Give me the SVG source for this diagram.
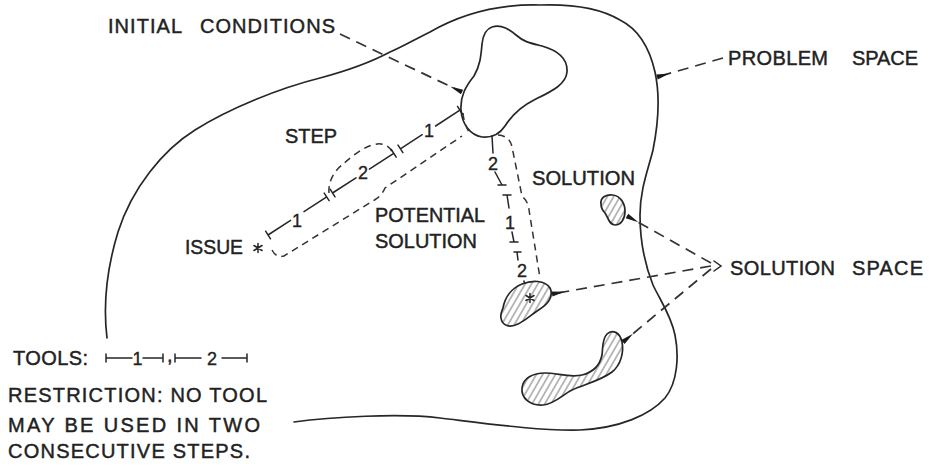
<svg xmlns="http://www.w3.org/2000/svg" width="930" height="468" viewBox="0 0 930 468">
<style>
  .ln{fill:none;stroke:#262626;stroke-width:1.7;stroke-linecap:round;stroke-linejoin:round}
  .th{fill:none;stroke:#262626;stroke-width:1.5;stroke-linecap:round}
  .ds{fill:none;stroke:#333;stroke-width:1.5;stroke-dasharray:7 5}
  .ar{fill:none;stroke:#333;stroke-width:1.7;stroke-dasharray:11 7}
  .hb{fill:url(#hatch);stroke:#262626;stroke-width:1.7}
  .tx{font-family:"Liberation Sans",Arial,sans-serif;font-size:20px;fill:#222;stroke:#222;stroke-width:0.45}
  .nm{font-family:"Liberation Sans",Arial,sans-serif;font-size:18px;fill:#222;stroke:#222;stroke-width:0.35;text-anchor:middle}
</style>
<defs>
  <pattern id="hatch" patternUnits="userSpaceOnUse" width="5.5" height="5.5" patternTransform="rotate(30)">
    <rect width="5.5" height="5.5" fill="#fff"/>
    <line x1="2.75" y1="0" x2="2.75" y2="5.5" stroke="#555" stroke-width="0.8"/>
  </pattern>
  <marker id="wedge" markerUnits="userSpaceOnUse" viewBox="0 -3 14 6" refX="13" refY="0" markerWidth="14" markerHeight="6" orient="auto">
    <path d="M0,0 L13,-2.6 L13,2.6 Z" fill="#1a1a1a"/>
  </marker>
</defs>
<rect width="930" height="468" fill="#fff"/>

<g id="problem-space">
  <path class="ln" d="M 294,422 C 330,417 400,413 440,418 C 490,424 540,431 580,430 C 620,428 650,415 665,398 C 678,382 679,355 675,335 C 671,315 660,300 653,285 C 645,265 640,240 640,215 C 640,190 648,170 653,150 C 658,125 660,95 655,72 C 650,50 640,30 620,20 C 600,8 570,4 540,5 C 500,4 465,12 430,32 C 410,42 400,48 390,52 C 375,60 350,70 320,78 C 280,88 230,108 195,130 C 163,150 132,188 118,232 C 107,268 103,305 107,338"/>
  <text class="tx" y="65"><tspan x="728" textLength="100" lengthAdjust="spacing">PROBLEM</tspan><tspan x="852" textLength="66" lengthAdjust="spacing">SPACE</tspan></text>
</g>

<g id="initial-conditions">
  <path class="ln" d="M 492,27 C 502,24 510,30 516,35 C 524,42 530,43 542,46 C 556,50 568,58 567,72 C 566,85 550,92 534,100 C 520,107 512,115 505,126 C 499,135 492,138 482,137 C 470,135 462,124 461,110 C 460,96 466,86 474,76 C 480,66 481,56 482,44 C 483,34 486,29 492,27 Z"/>
  <text class="tx" y="33" font-size="19"><tspan x="108" textLength="74" lengthAdjust="spacing">INITIAL</tspan><tspan x="200" textLength="135" lengthAdjust="spacing">CONDITIONS</tspan></text>
</g>

<g id="issue">
  <text class="tx" x="185" y="254" textLength="58" lengthAdjust="spacingAndGlyphs">ISSUE</text>
  <path class="th" d="M 258,243.5 V 252.5 M 254,245.5 L 262,250.5 M 254,250.5 L 262,245.5"/>
</g>

<g id="potential-solution">
  <path class="ds" d="M 272,250 Q 276,258 284,256 L 376,199 Q 382,195 385,188 L 462,136"/>
  <path class="ds" d="M 463,113 Q 464,124 469,132"/>
  <path class="ds" d="M 329,193 C 328,183 333,172 342,165 C 350,158 360,149 372,145 C 382,142 390,145 393,154"/>
  <path class="ds" d="M 498,135 Q 510,136 512,147 L 522,196 Q 529,203 529,210 L 540,278"/>
  <text class="tx" x="285" y="143" textLength="52" lengthAdjust="spacingAndGlyphs">STEP</text>
  <text class="tx" x="375" y="222" textLength="110" lengthAdjust="spacingAndGlyphs">POTENTIAL</text>
  <text class="tx" x="375" y="248" textLength="102" lengthAdjust="spacingAndGlyphs">SOLUTION</text>
</g>

<g id="steps-horizontal">
  <path class="th" d="M 268,235 L 290.6,220.3 M 304,211.6 L 326.7,196.9 M 265.6,231.2 L 270.5,238.8 M 324.2,193.1 L 329.1,200.7"/>
  <text class="nm" x="297" y="226.5">1</text>
  <path class="th" d="M 332.5,193 L 356,177.8 M 369.4,169.1 L 393.7,153.3 M 330.1,189.2 L 335,196.8 M 391.3,149.5 L 396.2,157.1"/>
  <text class="nm" x="363" y="178.5">2</text>
  <path class="th" d="M 400.4,148.9 L 422.2,134.7 M 435.6,126 L 459.9,110.2 M 398,145.1 L 402.9,152.7 M 457.5,106.4 L 462.4,114"/>
  <text class="nm" x="429" y="136.5">1</text>
</g>

<g id="steps-vertical">
  <path class="th" d="M 492,136 L 493,153 M 495,172 L 502,185 M 498,185 H 506"/>
  <text class="nm" x="493" y="169.5">2</text>
  <path class="th" d="M 503,195 H 511 M 507,195 L 509,208 M 512,232 L 514,242 M 510,242 H 518"/>
  <text class="nm" x="510" y="228.5">1</text>
  <path class="th" d="M 514,252 H 521 M 517,252 L 518,260 M 524,281 L 526,292 M 522,293 H 530"/>
  <text class="nm" x="522" y="276.5">2</text>
</g>

<g id="solution-1">
  <path class="hb" d="M 601,204 C 600,197 607,194 613,195 C 620,196 625,203 625,211 C 625,219 621,225 615,225 C 609,225 608,217 605,213 C 602,210 601,207 601,204 Z"/>
  <text class="tx" x="532" y="185" textLength="103" lengthAdjust="spacingAndGlyphs">SOLUTION</text>
</g>

<g id="solution-2">
  <path class="hb" d="M 503,308 C 505,297 512,288 522,284 C 532,280 545,280 550,288 C 554,296 548,304 540,309 C 532,314 526,320 518,324 C 510,328 502,326 501,318 C 500,314 502,311 503,308 Z"/>
  <path class="th" d="M 530,293.5 V 302.5 M 526,295.5 L 534,300.5 M 526,300.5 L 534,295.5"/>
</g>

<g id="solution-3">
  <path class="hb" d="M 607,334 C 612,329 620,332 622,342 C 624,352 621,365 612,372 C 600,381 585,384 572,390 C 562,395 555,404 543,405 C 530,406 521,398 522,388 C 523,378 533,373 545,373 C 557,373 570,378 582,375 C 594,372 600,365 602,355 C 603,347 602,339 607,334 Z"/>
</g>

<g id="solution-space">
  <text class="tx" y="275"><tspan x="730" textLength="105" lengthAdjust="spacing">SOLUTION</tspan><tspan x="852" textLength="71" lengthAdjust="spacing">SPACE</tspan></text>
</g>

<g id="legend">
  <text class="tx" x="13" y="365" textLength="75" lengthAdjust="spacing">TOOLS:</text>
  <path class="th" d="M 106,358 H 132 M 143,358 H 163 M 106,354 V 362 M 163,354 V 362"/>
  <text class="nm" x="137.5" y="365" font-size="19">1</text>
  <text class="tx" x="167" y="362" font-size="14">,</text>
  <path class="th" d="M 175,358 H 201 M 222,358 H 247 M 175,354 V 362 M 247,354 V 362"/>
  <text class="nm" x="212" y="365" font-size="19">2</text>
  <text class="tx" x="8" y="402" textLength="259" lengthAdjust="spacing">RESTRICTION: NO TOOL</text>
  <text class="tx" x="8" y="432" textLength="252" lengthAdjust="spacing">MAY BE USED IN TWO</text>
  <text class="tx" x="8" y="458" textLength="242" lengthAdjust="spacing">CONSECUTIVE STEPS.</text>
</g>

<g id="connectors">
  <path class="ar" d="M 340,34 L 462,92" marker-end="url(#wedge)"/>
  <path class="ar" d="M 723,58 L 657,77" marker-end="url(#wedge)"/>
  <path class="ar" d="M 711,263 L 627,216" marker-end="url(#wedge)"/>
  <path class="ar" d="M 711,266 L 552,294" marker-end="url(#wedge)"/>
  <path class="ar" d="M 711,269 L 623,342" marker-end="url(#wedge)"/>
  <path class="th" d="M 714,261 L 721,266 L 714,271"/>
</g>
</svg>
